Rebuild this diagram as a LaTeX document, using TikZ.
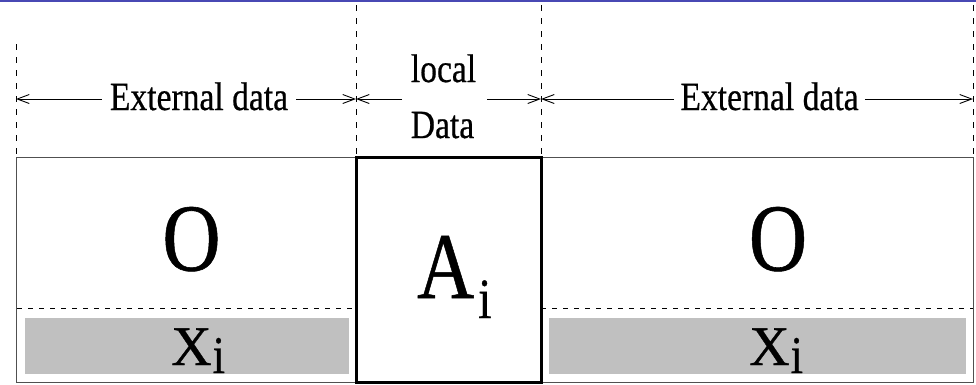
\documentclass[tikz,border=0pt]{standalone}
\usepackage{fontspec}
\usepackage{graphicx}
\newfontfamily\tnr[FakeBold=0.6]{Liberation Serif}
\newcommand{\nrw}[1]{\scalebox{0.84}[1]{#1}}
\usetikzlibrary{arrows.meta}
\definecolor{topblue}{RGB}{72,72,180}
\definecolor{boxgray}{RGB}{192,192,192}
\definecolor{edgegray}{RGB}{80,80,80}
\tikzset{
  vdash/.style={line width=0.9pt, dash pattern=on 6pt off 7pt},
  hdash/.style={line width=0.9pt, dash pattern=on 5pt off 6pt},
  dimline/.style={line width=0.9pt, -{Straight Barb[length=12pt,width=9pt,line width=0.9pt]}},
  lbl/.style={inner sep=0pt, anchor=base, font=\tnr\fontsize{40}{40}\selectfont},
  big/.style={inner sep=0pt, anchor=base, font=\tnr\fontsize{96}{96}\selectfont},
  thinbox/.style={draw=edgegray, line width=1pt},
  thickbox/.style={draw=black, line width=3pt},
  grayfill/.style={fill=boxgray, draw=none}
}
\begin{document}
\begin{tikzpicture}[x=1pt, y=-1pt]
\useasboundingbox (0,0) rectangle (976,384);
% top blue rule
\draw[topblue, line width=2pt] (0,1) -- (976,1);
% outer and middle boxes
\draw[thinbox] (16,157) rectangle (973,382);
\fill[grayfill] (25,318) rectangle (349,374);
\fill[grayfill] (549,318) rectangle (966,374);
\draw[hdash] (17,308) -- (356,308);
\draw[hdash] (541,308) -- (973,308);
\draw[thickbox] (356,157) rectangle (541,382);
% vertical dashed guides
\draw[vdash] (16,44) -- (16,157);
\draw[vdash] (356,5) -- (356,157);
\draw[vdash] (541,5) -- (541,157);
\draw[vdash] (973,5) -- (973,157);
% dimension coordinates
\coordinate (L0) at (16,99);
\coordinate (L1) at (356,99);
\coordinate (L2) at (541,99);
\coordinate (L3) at (973,99);
\coordinate (m1) at (402,99);
\coordinate (m2) at (487,99);
% labels
\node[lbl, inner xsep=8pt] (ext1) at (199,110) {\nrw{External data}};
\node[lbl, inner xsep=6pt] (ext2) at (769.5,110) {\nrw{External data}};
\node[lbl] (loc) at (443.5,82) {\nrw{local}};
\node[lbl] (dat) at (442.5,138) {\nrw{Data}};
% dimension arrows
\draw[dimline] (ext1.west |- L0) -- (L0);
\draw[dimline] (ext1.east |- L0) -- (L1);
\draw[dimline] (m1) -- (L1);
\draw[dimline] (m2) -- (L2);
\draw[dimline] (ext2.west |- L0) -- (L2);
\draw[dimline] (ext2.east |- L0) -- (L3);
% big letters
\node[big] (o1) at (191.5,270.5) {\nrw{O}};
\node[big] (o2) at (778,270.5) {\nrw{O}};
\node[inner sep=0pt, anchor=base west] (ai) at (417,298)
  {\tnr\fontsize{94}{94}\selectfont\nrw{A}\kern4pt\raisebox{-20pt}{\fontsize{57}{57}\selectfont\nrw{i}}};
\node[inner sep=0pt, anchor=base west] (x1) at (171,365)
  {\tnr\fontsize{56}{56}\selectfont X\kern1pt\raisebox{-8pt}{\fontsize{53}{53}\selectfont\nrw{i}}};
\node[inner sep=0pt, anchor=base west] (x2) at (749,365)
  {\tnr\fontsize{56}{56}\selectfont X\kern1pt\raisebox{-8pt}{\fontsize{53}{53}\selectfont\nrw{i}}};
\end{tikzpicture}
\end{document}
